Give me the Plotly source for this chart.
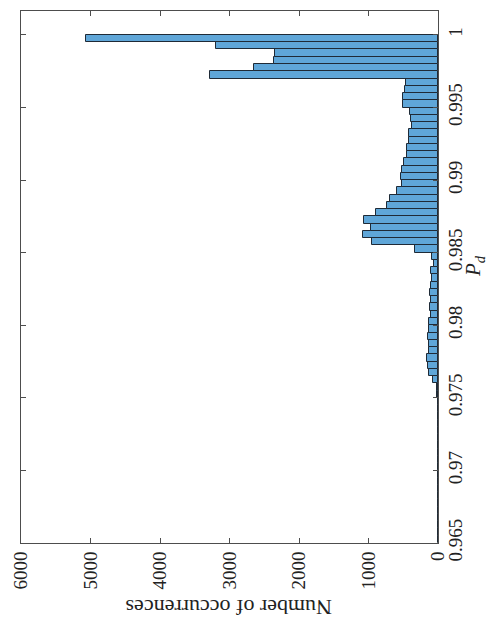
import numpy as np
import plotly.graph_objects as go

# Histogram of detection probability P_d (bin width 0.0005, from 0.965 up to 1)
pd_start = 0.965
bin_width = 0.0005
# counts listed from the lowest bin [0.965, 0.9655) to the highest [0.9995, 1.0]
counts = [
    0, 0, 1, 1, 1, 1, 1, 1, 2, 2,
    2, 2, 3, 3, 3, 4, 4, 5, 5, 6,
    8, 12, 67, 124, 148, 157, 129, 129, 143, 129,
    124, 105, 114, 100, 114, 95, 81, 100, 62, 86,
    333, 948, 1081, 971, 1067, 895, 733, 695, 586, 524,
    538, 519, 496, 450, 440, 415, 419, 378, 390, 410,
    505, 510, 481, 462, 3280, 2650, 2360, 2340, 3200, 5070,
]
count_ticks = [0, 1000, 2000, 3000, 4000, 5000, 6000]
pd_ticks = [0.965, 0.97, 0.975, 0.98, 0.985, 0.99, 0.995, 1.0]
pd_tick_text = ["0.965", "0.97", "0.975", "0.98", "0.985", "0.99", "0.995", "1"]

centers = pd_start + bin_width * (np.arange(len(counts)) + 0.5)

serif = "Liberation Serif, Times New Roman, serif"
axis_col = "#4d4d4d"

fig = go.Figure(
    go.Bar(
        x=counts,
        y=centers,
        width=bin_width,
        orientation="h",
        marker=dict(color="#5fa6d8", line=dict(color="#1f2a36", width=1)),
    )
)

fig.update_xaxes(
    range=[6000, 0],
    tickvals=count_ticks,
    ticktext=[str(v) for v in count_ticks],
    tickangle=-90,
    ticks="inside",
    ticklen=5,
    tickcolor=axis_col,
    showline=True,
    linecolor=axis_col,
    linewidth=1,
    mirror="ticks",
    showgrid=False,
    zeroline=False,
    tickfont=dict(family=serif, size=19, color="#222"),
)
fig.update_yaxes(
    range=[0.965, 1.00165],
    side="right",
    tickvals=pd_ticks,
    ticktext=pd_tick_text,
    tickangle=-90,
    ticks="inside",
    ticklen=5,
    tickcolor=axis_col,
    showline=True,
    linecolor=axis_col,
    linewidth=1,
    mirror="ticks",
    showgrid=False,
    zeroline=False,
    tickfont=dict(family=serif, size=19, color="#222"),
)

fig.add_annotation(
    text="Number of occurrences",
    x=0.5, y=-0.12, xref="paper", yref="paper",
    xanchor="center", yanchor="middle",
    textangle=180, showarrow=False,
    font=dict(family=serif, size=22, color="#222"),
)
fig.add_annotation(
    text="<i>P</i><sub><i>d</i></sub>",
    x=1.088, y=0.52, xref="paper", yref="paper",
    xanchor="center", yanchor="middle",
    textangle=-90, showarrow=False,
    font=dict(family=serif, size=21, color="#222"),
)

fig.update_layout(
    width=490,
    height=621,
    margin=dict(l=18, r=52, t=10, b=78),
    paper_bgcolor="white",
    plot_bgcolor="white",
    showlegend=False,
    bargap=0,
)

fig.write_html("out.html")
